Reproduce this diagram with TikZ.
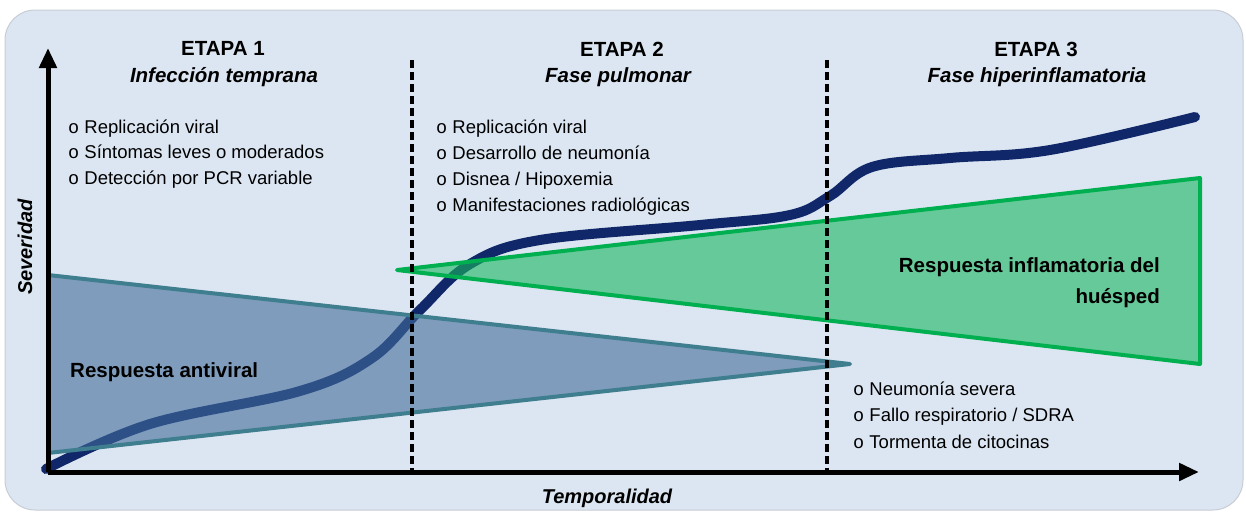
\documentclass[tikz,border=0pt]{standalone}
\usepackage{fontspec}
\setmainfont{Liberation Sans}
\newfontfamily\bulletfont{Liberation Mono}
\usetikzlibrary{arrows.meta}
\definecolor{bgblue}{RGB}{220,230,242}
\definecolor{bgedge}{RGB}{200,205,212}
\definecolor{navy}{RGB}{16,40,105}
\definecolor{avfill}{RGB}{65,107,154}
\definecolor{avline}{RGB}{62,126,142}
\definecolor{infill}{RGB}{23,182,94}
\definecolor{inline}{RGB}{0,176,80}
\tikzset{
  axisline/.style={line width=5pt,-{Triangle[length=20pt,width=17pt]}},
  stagesep/.style={line width=3.5pt,dash pattern=on 8pt off 4pt},
  stagehead/.style={font=\fontsize{20.5}{24}\selectfont\bfseries,anchor=base,inner sep=0pt},
  stagesub/.style={font=\fontsize{20.5}{24}\selectfont\bfseries\itshape,anchor=base,inner sep=0pt},
  bullet/.style={font=\fontsize{18.5}{22}\selectfont,anchor=base west,inner sep=0pt},
  boldlabel/.style={font=\fontsize{20.5}{24}\selectfont\bfseries,inner sep=0pt},
  axislabel/.style={font=\fontsize{20}{24}\selectfont\bfseries\itshape,inner sep=0pt},
}
\newcommand{\bul}{{\bulletfont o}\ }
\begin{document}
\begin{tikzpicture}[x=1pt,y=-1pt]
\useasboundingbox (0,0) rectangle (1246,512);
% background panel
\fill[white] (0,0) rectangle (1246,512);
\filldraw[fill=bgblue,draw=bgedge,line width=1pt,rounded corners=30pt] (5,10) rectangle (1243,510);

% coordinates
\coordinate (O) at (48,472);
\coordinate (Ytop) at (48,48);
\coordinate (Xend) at (1199,472);
\coordinate (S1top) at (412,60);
\coordinate (S1bot) at (412,472);
\coordinate (S2top) at (827,60);
\coordinate (S2bot) at (827,472);

% severity curve
\draw[navy,line width=10pt,line cap=round] plot[smooth,tension=0.6] coordinates {
 (46,469) (150,424) (300,391) (372,358) (420,310) (470,264) (540,240)
 (700,225) (790,215) (830,196) (872,167) (950,158) (1050,150) (1195,117)};

% antiviral response triangle
\coordinate (AVa) at (48,275);
\coordinate (AVb) at (48,453);
\coordinate (AVc) at (850,364);
\fill[avfill,fill opacity=0.6] (AVa) -- (AVc) -- (AVb) -- cycle;
\draw[avline,line width=4pt,line cap=round,line join=round] (AVa) -- (AVc) -- (AVb);

% inflammatory response triangle
\coordinate (INa) at (397,270);
\coordinate (INb) at (1200,178);
\coordinate (INc) at (1200,364);
\fill[infill,fill opacity=0.6] (INa) -- (INb) -- (INc) -- cycle;
\draw[inline,line width=4pt,line cap=round,line join=round] (INa) -- (INb) -- (INc) -- cycle;

% stage separators
\draw[stagesep] (S1top) -- (S1bot);
\draw[stagesep] (S2top) -- (S2bot);

% axes
\draw[axisline] (O) -- (Ytop);
\draw[axisline] (O) -- (Xend);

% headers
\node[stagehead] (h1) at (223,55) {ETAPA 1};
\node[stagesub] (s1) at (224,82) {Infección temprana};
\node[stagehead] (h2) at (622,56) {ETAPA 2};
\node[stagesub] (s2) at (618,82) {Fase pulmonar};
\node[stagehead] (h3) at (1036,56) {ETAPA 3};
\node[stagesub] (s3) at (1037,82) {Fase hiperinflamatoria};

% stage 1 bullets
\node[bullet] (b11) at (68,133) {\bul Replicación viral};
\node[bullet] (b12) at (68,158.5) {\bul Síntomas leves o moderados};
\node[bullet] (b13) at (68,184) {\bul Detección por PCR variable};

% stage 2 bullets
\node[bullet] (b21) at (436,133) {\bul Replicación viral};
\node[bullet] (b22) at (436,159) {\bul Desarrollo de neumonía};
\node[bullet] (b23) at (436,185) {\bul Disnea / Hipoxemia};
\node[bullet] (b24) at (436,211) {\bul Manifestaciones radiológicas};

% stage 3 bullets
\node[bullet] (b31) at (853,395) {\bul Neumonía severa};
\node[bullet] (b32) at (853,421.5) {\bul Fallo respiratorio / SDRA};
\node[bullet] (b33) at (853,448) {\bul Tormenta de citocinas};

% triangle labels
\node[boldlabel,anchor=base west] (avlab) at (70,377) {Respuesta antiviral};
\node[boldlabel,anchor=base east] (inlab1) at (1160,272) {Respuesta inflamatoria del};
\node[boldlabel,anchor=base east] (inlab2) at (1160,303) {huésped};

% axis labels
\node[axislabel,anchor=base] (xlab) at (607,503) {Temporalidad};
\node[axislabel,rotate=90,anchor=base] (ylab) at (32,247) {Severidad};
\end{tikzpicture}
\end{document}
